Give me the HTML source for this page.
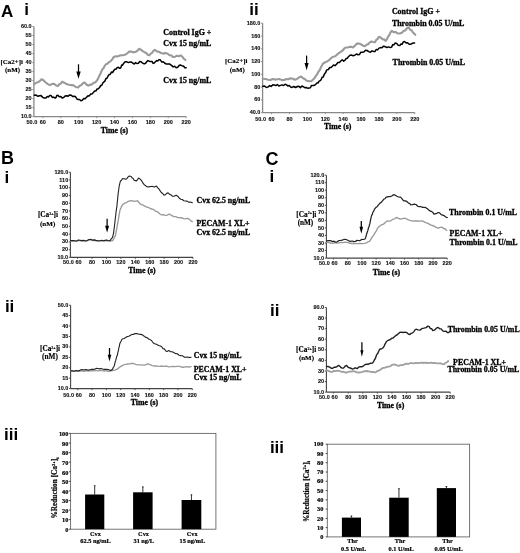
<!DOCTYPE html>
<html><head><meta charset="utf-8"><title>Figure</title>
<style>html,body{margin:0;padding:0;background:#fff;width:520px;height:553px;overflow:hidden}svg{display:block;filter:blur(0.3px)}</style>
</head><body>
<svg width="520" height="553" viewBox="0 0 520 553">
<rect width="520" height="553" fill="#fff"/>
<line x1="33.9" y1="26.5" x2="33.9" y2="116.6" stroke="#888" stroke-width="1.3"/>
<line x1="33.9" y1="116.6" x2="186.2" y2="116.6" stroke="#888" stroke-width="1.3"/>
<line x1="32.3" y1="26.50" x2="33.9" y2="26.50" stroke="#888" stroke-width="0.9"/>
<text x="31.70" y="28.07" font-size="5.5" font-family='"Liberation Sans", sans-serif' font-weight="bold" text-anchor="end" fill="#111" stroke="#111" stroke-width="0.12">60.0</text>
<line x1="32.3" y1="35.51" x2="33.9" y2="35.51" stroke="#888" stroke-width="0.9"/>
<text x="31.70" y="37.08" font-size="5.5" font-family='"Liberation Sans", sans-serif' font-weight="bold" text-anchor="end" fill="#111" stroke="#111" stroke-width="0.12">55</text>
<line x1="32.3" y1="44.52" x2="33.9" y2="44.52" stroke="#888" stroke-width="0.9"/>
<text x="31.70" y="46.09" font-size="5.5" font-family='"Liberation Sans", sans-serif' font-weight="bold" text-anchor="end" fill="#111" stroke="#111" stroke-width="0.12">50</text>
<line x1="32.3" y1="53.53" x2="33.9" y2="53.53" stroke="#888" stroke-width="0.9"/>
<text x="31.70" y="55.10" font-size="5.5" font-family='"Liberation Sans", sans-serif' font-weight="bold" text-anchor="end" fill="#111" stroke="#111" stroke-width="0.12">45</text>
<line x1="32.3" y1="62.54" x2="33.9" y2="62.54" stroke="#888" stroke-width="0.9"/>
<text x="31.70" y="64.11" font-size="5.5" font-family='"Liberation Sans", sans-serif' font-weight="bold" text-anchor="end" fill="#111" stroke="#111" stroke-width="0.12">40</text>
<line x1="32.3" y1="71.55" x2="33.9" y2="71.55" stroke="#888" stroke-width="0.9"/>
<text x="31.70" y="73.12" font-size="5.5" font-family='"Liberation Sans", sans-serif' font-weight="bold" text-anchor="end" fill="#111" stroke="#111" stroke-width="0.12">35</text>
<line x1="32.3" y1="80.56" x2="33.9" y2="80.56" stroke="#888" stroke-width="0.9"/>
<text x="31.70" y="82.13" font-size="5.5" font-family='"Liberation Sans", sans-serif' font-weight="bold" text-anchor="end" fill="#111" stroke="#111" stroke-width="0.12">30</text>
<line x1="32.3" y1="89.57" x2="33.9" y2="89.57" stroke="#888" stroke-width="0.9"/>
<text x="31.70" y="91.14" font-size="5.5" font-family='"Liberation Sans", sans-serif' font-weight="bold" text-anchor="end" fill="#111" stroke="#111" stroke-width="0.12">25</text>
<line x1="32.3" y1="98.58" x2="33.9" y2="98.58" stroke="#888" stroke-width="0.9"/>
<text x="31.70" y="100.15" font-size="5.5" font-family='"Liberation Sans", sans-serif' font-weight="bold" text-anchor="end" fill="#111" stroke="#111" stroke-width="0.12">20</text>
<line x1="32.3" y1="107.59" x2="33.9" y2="107.59" stroke="#888" stroke-width="0.9"/>
<text x="31.70" y="109.16" font-size="5.5" font-family='"Liberation Sans", sans-serif' font-weight="bold" text-anchor="end" fill="#111" stroke="#111" stroke-width="0.12">15</text>
<line x1="32.3" y1="116.60" x2="33.9" y2="116.60" stroke="#888" stroke-width="0.9"/>
<text x="31.70" y="118.17" font-size="5.5" font-family='"Liberation Sans", sans-serif' font-weight="bold" text-anchor="end" fill="#111" stroke="#111" stroke-width="0.12">10.0</text>
<text x="31.90" y="124.47" font-size="5.5" font-family='"Liberation Sans", sans-serif' font-weight="bold" text-anchor="middle" fill="#111" stroke="#111" stroke-width="0.12">50.0</text>
<line x1="42.86" y1="116.6" x2="42.86" y2="118.1" stroke="#888" stroke-width="0.9"/>
<text x="42.86" y="124.47" font-size="5.5" font-family='"Liberation Sans", sans-serif' font-weight="bold" text-anchor="middle" fill="#111" stroke="#111" stroke-width="0.12">60</text>
<line x1="60.78" y1="116.6" x2="60.78" y2="118.1" stroke="#888" stroke-width="0.9"/>
<text x="60.78" y="124.47" font-size="5.5" font-family='"Liberation Sans", sans-serif' font-weight="bold" text-anchor="middle" fill="#111" stroke="#111" stroke-width="0.12">80</text>
<line x1="78.69" y1="116.6" x2="78.69" y2="118.1" stroke="#888" stroke-width="0.9"/>
<text x="78.69" y="124.47" font-size="5.5" font-family='"Liberation Sans", sans-serif' font-weight="bold" text-anchor="middle" fill="#111" stroke="#111" stroke-width="0.12">100</text>
<line x1="96.61" y1="116.6" x2="96.61" y2="118.1" stroke="#888" stroke-width="0.9"/>
<text x="96.61" y="124.47" font-size="5.5" font-family='"Liberation Sans", sans-serif' font-weight="bold" text-anchor="middle" fill="#111" stroke="#111" stroke-width="0.12">120</text>
<line x1="114.53" y1="116.6" x2="114.53" y2="118.1" stroke="#888" stroke-width="0.9"/>
<text x="114.53" y="124.47" font-size="5.5" font-family='"Liberation Sans", sans-serif' font-weight="bold" text-anchor="middle" fill="#111" stroke="#111" stroke-width="0.12">140</text>
<line x1="132.45" y1="116.6" x2="132.45" y2="118.1" stroke="#888" stroke-width="0.9"/>
<text x="132.45" y="124.47" font-size="5.5" font-family='"Liberation Sans", sans-serif' font-weight="bold" text-anchor="middle" fill="#111" stroke="#111" stroke-width="0.12">160</text>
<line x1="150.36" y1="116.6" x2="150.36" y2="118.1" stroke="#888" stroke-width="0.9"/>
<text x="150.36" y="124.47" font-size="5.5" font-family='"Liberation Sans", sans-serif' font-weight="bold" text-anchor="middle" fill="#111" stroke="#111" stroke-width="0.12">180</text>
<line x1="168.28" y1="116.6" x2="168.28" y2="118.1" stroke="#888" stroke-width="0.9"/>
<text x="168.28" y="124.47" font-size="5.5" font-family='"Liberation Sans", sans-serif' font-weight="bold" text-anchor="middle" fill="#111" stroke="#111" stroke-width="0.12">200</text>
<line x1="186.20" y1="116.6" x2="186.20" y2="118.1" stroke="#888" stroke-width="0.9"/>
<text x="186.20" y="124.47" font-size="5.5" font-family='"Liberation Sans", sans-serif' font-weight="bold" text-anchor="middle" fill="#111" stroke="#111" stroke-width="0.12">220</text>
<polyline points="34.3,84.1 36.0,82.9 37.7,82.2 39.6,81.2 41.5,79.3 43.5,80.3 45.4,82.2 47.5,83.9 49.7,85.1 51.7,84.1 53.6,83.7 55.8,85.2 57.9,86.1 59.3,84.2 60.8,83.6 62.2,81.7 64.3,82.7 66.5,84.1 68.9,84.8 71.3,85.1 73.6,85.4 75.8,87.0 78.1,87.5 79.7,85.8 81.3,85.1 82.9,83.3 84.5,82.4 86.4,84.5 88.3,85.7 90.1,84.6 91.8,84.6 93.6,82.7 95.4,82.4 96.8,80.7 98.1,78.6 99.2,76.1 100.2,74.3 101.3,71.6 102.4,69.3 103.5,68.4 104.6,66.0 105.7,64.5 107.3,63.8 108.9,62.2 110.5,61.3 112.2,59.4 113.8,56.9 115.6,56.2 117.4,56.5 119.2,55.8 121.1,55.3 123.0,55.3 124.9,54.8 126.8,53.7 129.2,51.5 131.1,51.6 133.0,52.3 135.8,51.9 137.5,50.7 139.2,48.8 140.9,49.6 142.7,51.2 144.4,52.2 146.0,52.8 147.7,54.7 149.3,55.4 150.7,53.6 152.1,52.9 153.4,50.8 154.8,49.9 156.8,51.4 158.8,51.7 160.8,53.0 163.1,53.6 165.4,53.1 167.7,53.8 169.5,55.3 171.2,55.4 173.0,57.0 174.9,56.9 176.9,55.7 178.9,56.2 180.8,55.4 182.3,56.7 183.9,58.8 185.4,60.0" fill="none" stroke="#9a9a9a" stroke-width="2.1" stroke-linejoin="round" stroke-linecap="round"/>
<polyline points="34.3,95.2 36.1,95.0 37.8,96.3 39.6,95.7 41.0,95.6 42.5,97.1 44.2,98.1 45.9,98.1 47.2,96.6 48.4,96.9 49.7,95.4 51.0,95.4 52.4,97.5 53.7,97.1 55.0,98.1 56.0,97.5 56.9,95.4 57.9,95.2 59.3,96.7 60.8,96.4 62.2,98.1 63.6,97.6 65.1,95.9 66.5,95.7 68.1,96.3 69.7,94.9 71.3,95.2 72.8,96.6 74.2,96.3 75.5,96.5 76.8,98.8 78.1,99.5 79.5,99.5 80.9,100.7 82.3,100.3 83.8,98.4 85.2,98.7 86.7,97.1 88.0,95.8 89.3,95.9 90.6,94.1 91.9,94.0 93.2,92.7 94.5,91.1 95.8,91.1 97.1,89.0 98.4,88.8 99.7,87.3 100.8,85.5 101.8,85.2 102.9,82.8 104.0,81.9 105.0,80.9 105.9,78.4 106.8,78.5 107.8,76.5 109.0,74.6 110.2,74.5 111.4,72.0 112.6,72.5 113.8,70.5 114.9,69.2 115.9,69.2 117.0,67.8 118.4,67.3 119.8,68.3 120.8,67.8 121.7,65.0 122.6,65.2 123.6,63.4 125.2,61.8 126.8,61.8 128.4,62.6 130.0,62.0 131.4,62.1 132.9,63.2 134.2,64.0 135.6,62.6 136.9,63.5 138.4,63.3 139.8,61.4 141.2,61.7 142.7,63.2 144.1,63.9 145.6,63.2 146.8,61.6 147.9,60.6 149.7,61.4 151.4,61.4 152.2,61.6 153.1,63.4 154.2,63.1 155.4,61.7 156.6,60.6 157.7,61.0 158.9,59.7 160.3,59.8 161.8,62.1 163.2,61.7 164.6,63.0 166.3,64.1 168.0,64.0 169.8,64.1 171.5,65.4 173.1,66.9 174.6,66.3 176.2,67.7 177.7,67.3 179.3,65.3 180.8,65.0 182.2,66.0 183.5,66.0 184.8,67.7 186.2,67.7" fill="none" stroke="#000" stroke-width="1.5" stroke-linejoin="round" stroke-linecap="round"/>
<line x1="78.5" y1="64.3" x2="78.5" y2="72.6" stroke="#000" stroke-width="1.25"/>
<polygon points="76.3,71.6 80.7,71.6 78.5,78.8" fill="#000"/>
<text x="100.80" y="132.90" font-size="7.8" font-family='"Liberation Serif", serif' font-weight="bold" text-anchor="start" fill="#000" stroke="#000" stroke-width="0.3">Time (s)</text>
<text transform="translate(0.5,64.1) scale(1.0,1)" font-size="6.95" font-family='"Liberation Serif", serif' font-weight="bold" stroke="#000" stroke-width="0.15">[Ca2+]i</text>
<text transform="translate(5,72.0) scale(1.0,1)" font-size="6.95" font-family='"Liberation Serif", serif' font-weight="bold" stroke="#000" stroke-width="0.15">(nM)</text>
<text x="163.30" y="34.80" font-size="7.95" font-family='"Liberation Serif", serif' font-weight="bold" text-anchor="start" fill="#000" stroke="#000" stroke-width="0.3">Control IgG +</text>
<text x="163.30" y="46.20" font-size="7.95" font-family='"Liberation Serif", serif' font-weight="bold" text-anchor="start" fill="#000" stroke="#000" stroke-width="0.3">Cvx 15 ng/mL</text>
<text x="163.30" y="83.30" font-size="7.95" font-family='"Liberation Serif", serif' font-weight="bold" text-anchor="start" fill="#000" stroke="#000" stroke-width="0.3">Cvx 15 ng/mL</text>
<line x1="262.6" y1="23.3" x2="262.6" y2="112.6" stroke="#888" stroke-width="1.3"/>
<line x1="262.6" y1="112.6" x2="414.8" y2="112.6" stroke="#888" stroke-width="1.3"/>
<line x1="261.0" y1="23.30" x2="262.6" y2="23.30" stroke="#888" stroke-width="0.9"/>
<text x="260.40" y="24.87" font-size="5.5" font-family='"Liberation Sans", sans-serif' font-weight="bold" text-anchor="end" fill="#111" stroke="#111" stroke-width="0.12">180.0</text>
<line x1="261.0" y1="36.06" x2="262.6" y2="36.06" stroke="#888" stroke-width="0.9"/>
<text x="260.40" y="37.63" font-size="5.5" font-family='"Liberation Sans", sans-serif' font-weight="bold" text-anchor="end" fill="#111" stroke="#111" stroke-width="0.12">160</text>
<line x1="261.0" y1="48.81" x2="262.6" y2="48.81" stroke="#888" stroke-width="0.9"/>
<text x="260.40" y="50.38" font-size="5.5" font-family='"Liberation Sans", sans-serif' font-weight="bold" text-anchor="end" fill="#111" stroke="#111" stroke-width="0.12">140</text>
<line x1="261.0" y1="61.57" x2="262.6" y2="61.57" stroke="#888" stroke-width="0.9"/>
<text x="260.40" y="63.14" font-size="5.5" font-family='"Liberation Sans", sans-serif' font-weight="bold" text-anchor="end" fill="#111" stroke="#111" stroke-width="0.12">120</text>
<line x1="261.0" y1="74.33" x2="262.6" y2="74.33" stroke="#888" stroke-width="0.9"/>
<text x="260.40" y="75.90" font-size="5.5" font-family='"Liberation Sans", sans-serif' font-weight="bold" text-anchor="end" fill="#111" stroke="#111" stroke-width="0.12">100</text>
<line x1="261.0" y1="87.09" x2="262.6" y2="87.09" stroke="#888" stroke-width="0.9"/>
<text x="260.40" y="88.65" font-size="5.5" font-family='"Liberation Sans", sans-serif' font-weight="bold" text-anchor="end" fill="#111" stroke="#111" stroke-width="0.12">80</text>
<line x1="261.0" y1="99.84" x2="262.6" y2="99.84" stroke="#888" stroke-width="0.9"/>
<text x="260.40" y="101.41" font-size="5.5" font-family='"Liberation Sans", sans-serif' font-weight="bold" text-anchor="end" fill="#111" stroke="#111" stroke-width="0.12">60</text>
<line x1="261.0" y1="112.60" x2="262.6" y2="112.60" stroke="#888" stroke-width="0.9"/>
<text x="260.40" y="114.17" font-size="5.5" font-family='"Liberation Sans", sans-serif' font-weight="bold" text-anchor="end" fill="#111" stroke="#111" stroke-width="0.12">40.0</text>
<text x="260.60" y="120.57" font-size="5.5" font-family='"Liberation Sans", sans-serif' font-weight="bold" text-anchor="middle" fill="#111" stroke="#111" stroke-width="0.12">50.0</text>
<line x1="271.55" y1="112.6" x2="271.55" y2="114.1" stroke="#888" stroke-width="0.9"/>
<text x="271.55" y="120.57" font-size="5.5" font-family='"Liberation Sans", sans-serif' font-weight="bold" text-anchor="middle" fill="#111" stroke="#111" stroke-width="0.12">60</text>
<line x1="289.46" y1="112.6" x2="289.46" y2="114.1" stroke="#888" stroke-width="0.9"/>
<text x="289.46" y="120.57" font-size="5.5" font-family='"Liberation Sans", sans-serif' font-weight="bold" text-anchor="middle" fill="#111" stroke="#111" stroke-width="0.12">80</text>
<line x1="307.36" y1="112.6" x2="307.36" y2="114.1" stroke="#888" stroke-width="0.9"/>
<text x="307.36" y="120.57" font-size="5.5" font-family='"Liberation Sans", sans-serif' font-weight="bold" text-anchor="middle" fill="#111" stroke="#111" stroke-width="0.12">100</text>
<line x1="325.27" y1="112.6" x2="325.27" y2="114.1" stroke="#888" stroke-width="0.9"/>
<text x="325.27" y="120.57" font-size="5.5" font-family='"Liberation Sans", sans-serif' font-weight="bold" text-anchor="middle" fill="#111" stroke="#111" stroke-width="0.12">120</text>
<line x1="343.18" y1="112.6" x2="343.18" y2="114.1" stroke="#888" stroke-width="0.9"/>
<text x="343.18" y="120.57" font-size="5.5" font-family='"Liberation Sans", sans-serif' font-weight="bold" text-anchor="middle" fill="#111" stroke="#111" stroke-width="0.12">140</text>
<line x1="361.08" y1="112.6" x2="361.08" y2="114.1" stroke="#888" stroke-width="0.9"/>
<text x="361.08" y="120.57" font-size="5.5" font-family='"Liberation Sans", sans-serif' font-weight="bold" text-anchor="middle" fill="#111" stroke="#111" stroke-width="0.12">160</text>
<line x1="378.99" y1="112.6" x2="378.99" y2="114.1" stroke="#888" stroke-width="0.9"/>
<text x="378.99" y="120.57" font-size="5.5" font-family='"Liberation Sans", sans-serif' font-weight="bold" text-anchor="middle" fill="#111" stroke="#111" stroke-width="0.12">180</text>
<line x1="396.89" y1="112.6" x2="396.89" y2="114.1" stroke="#888" stroke-width="0.9"/>
<text x="396.89" y="120.57" font-size="5.5" font-family='"Liberation Sans", sans-serif' font-weight="bold" text-anchor="middle" fill="#111" stroke="#111" stroke-width="0.12">200</text>
<line x1="414.80" y1="112.6" x2="414.80" y2="114.1" stroke="#888" stroke-width="0.9"/>
<text x="414.80" y="120.57" font-size="5.5" font-family='"Liberation Sans", sans-serif' font-weight="bold" text-anchor="middle" fill="#111" stroke="#111" stroke-width="0.12">220</text>
<polyline points="262.8,78.8 265.5,79.0 268.2,79.7 270.5,80.0 272.8,79.0 275.1,79.6 277.4,79.2 279.7,79.1 282.0,80.1 284.3,80.0 286.4,79.0 288.4,79.3 290.5,78.2 292.8,78.7 295.1,79.7 297.1,78.9 299.2,77.2 301.2,76.6 303.0,78.3 304.8,79.0 306.6,80.8 309.7,81.2 311.5,81.1 313.1,79.6 314.8,77.8 315.9,75.7 317.0,74.7 318.0,72.3 319.1,70.8 320.1,69.5 321.0,66.8 321.9,65.7 322.9,63.7 324.8,62.5 326.7,61.6 328.9,60.3 331.0,58.3 332.8,56.7 334.7,56.5 336.5,55.1 338.6,53.2 340.8,51.8 342.4,50.7 344.1,48.7 345.7,47.5 347.6,47.5 349.5,46.9 351.2,46.8 353.0,47.4 354.9,45.8 356.7,43.6 358.8,43.6 360.8,44.2 362.8,45.5 364.8,46.2 366.5,44.8 368.1,44.2 369.8,42.4 371.5,41.5 373.2,42.0 374.9,42.2 376.2,39.9 377.6,39.0 378.9,36.8 380.6,37.4 382.3,39.1 384.0,39.4 385.7,40.9 386.9,39.4 388.1,36.6 389.3,35.1 390.5,32.4 391.7,30.8 393.7,32.1 395.8,32.1 397.8,33.5 399.8,33.5 401.8,32.8 403.5,31.0 405.1,30.5 406.8,28.5 408.5,27.4 410.1,29.6 411.7,30.5 413.3,32.8 415.3,34.8" fill="none" stroke="#9a9a9a" stroke-width="2.1" stroke-linejoin="round" stroke-linecap="round"/>
<polyline points="262.8,86.2 264.6,86.1 266.4,87.5 268.2,86.9 269.7,85.6 271.2,86.4 272.8,84.8 274.3,84.9 275.9,85.6 277.4,84.5 278.9,86.0 280.5,85.4 282.0,84.9 283.6,85.5 285.1,84.2 286.6,84.9 288.0,86.1 289.3,85.4 290.6,87.1 292.0,87.4 293.8,86.5 295.6,87.5 297.4,86.5 298.9,86.2 300.4,87.6 302.0,86.0 303.5,86.9 304.8,87.7 306.1,87.5 307.4,88.2 309.3,88.1 310.4,87.8 311.5,85.4 312.6,85.4 314.2,85.4 315.8,84.3 316.9,82.9 318.0,83.0 319.1,81.2 320.2,80.6 321.1,79.7 322.1,77.3 323.1,77.1 324.0,75.1 324.8,73.3 325.6,72.8 326.4,70.6 327.2,69.7 328.4,69.5 329.6,67.6 330.9,67.6 332.1,66.5 333.6,65.0 335.0,65.7 336.5,64.3 337.9,62.5 339.4,62.5 340.8,61.0 342.2,59.8 343.7,61.1 345.1,60.0 346.2,58.5 347.3,58.3 348.4,56.7 350.0,55.2 351.6,55.1 353.2,55.8 354.9,55.1 356.5,54.0 358.1,54.7 359.4,54.5 360.8,52.3 362.1,52.3 363.8,52.0 365.5,50.3 367.1,50.5 368.8,51.6 370.4,52.3 372.0,50.8 373.6,51.6 374.9,51.6 376.3,49.4 377.6,49.9 379.0,48.1 380.3,47.6 381.9,47.7 383.4,46.2 385.0,46.6 386.8,47.5 388.6,46.9 390.4,47.6 391.6,47.1 392.8,44.6 393.9,44.9 395.1,43.1 396.7,43.4 398.2,45.3 399.8,45.6 401.0,44.0 402.1,44.3 403.3,41.9 404.5,41.5 406.1,42.9 407.6,42.7 409.2,44.2 411.0,44.2 412.8,43.1 414.6,43.1" fill="none" stroke="#000" stroke-width="1.5" stroke-linejoin="round" stroke-linecap="round"/>
<line x1="306.6" y1="55.6" x2="306.6" y2="64.1" stroke="#000" stroke-width="1.25"/>
<polygon points="304.55,63.099999999999994 308.65000000000003,63.099999999999994 306.6,70.3" fill="#000"/>
<text x="324.00" y="129.30" font-size="7.8" font-family='"Liberation Serif", serif' font-weight="bold" text-anchor="start" fill="#000" stroke="#000" stroke-width="0.3">Time (s)</text>
<text transform="translate(225.0,63.3) scale(1.0,1)" font-size="6.95" font-family='"Liberation Serif", serif' font-weight="bold" stroke="#000" stroke-width="0.15">[Ca2+]i</text>
<text transform="translate(229.8,71.6) scale(1.0,1)" font-size="6.95" font-family='"Liberation Serif", serif' font-weight="bold" stroke="#000" stroke-width="0.15">(nM)</text>
<text x="391.90" y="13.80" font-size="7.95" font-family='"Liberation Serif", serif' font-weight="bold" text-anchor="start" fill="#000" stroke="#000" stroke-width="0.3">Control IgG +</text>
<text x="391.90" y="25.60" font-size="7.95" font-family='"Liberation Serif", serif' font-weight="bold" text-anchor="start" fill="#000" stroke="#000" stroke-width="0.3">Thrombin 0.05 U/mL</text>
<text x="392.60" y="65.40" font-size="7.95" font-family='"Liberation Serif", serif' font-weight="bold" text-anchor="start" fill="#000" stroke="#000" stroke-width="0.3">Thrombin 0.05 U/mL</text>
<line x1="70.4" y1="172.2" x2="70.4" y2="257.4" stroke="#444" stroke-width="1.1"/>
<line x1="70.4" y1="257.4" x2="193.0" y2="257.4" stroke="#444" stroke-width="1.1"/>
<line x1="68.80000000000001" y1="172.20" x2="70.4" y2="172.20" stroke="#444" stroke-width="0.9"/>
<text x="68.20" y="173.77" font-size="5.5" font-family='"Liberation Sans", sans-serif' font-weight="bold" text-anchor="end" fill="#111" stroke="#111" stroke-width="0.12">120.0</text>
<line x1="68.80000000000001" y1="179.95" x2="70.4" y2="179.95" stroke="#444" stroke-width="0.9"/>
<text x="68.20" y="181.51" font-size="5.5" font-family='"Liberation Sans", sans-serif' font-weight="bold" text-anchor="end" fill="#111" stroke="#111" stroke-width="0.12">110</text>
<line x1="68.80000000000001" y1="187.69" x2="70.4" y2="187.69" stroke="#444" stroke-width="0.9"/>
<text x="68.20" y="189.26" font-size="5.5" font-family='"Liberation Sans", sans-serif' font-weight="bold" text-anchor="end" fill="#111" stroke="#111" stroke-width="0.12">100</text>
<line x1="68.80000000000001" y1="195.44" x2="70.4" y2="195.44" stroke="#444" stroke-width="0.9"/>
<text x="68.20" y="197.01" font-size="5.5" font-family='"Liberation Sans", sans-serif' font-weight="bold" text-anchor="end" fill="#111" stroke="#111" stroke-width="0.12">90</text>
<line x1="68.80000000000001" y1="203.18" x2="70.4" y2="203.18" stroke="#444" stroke-width="0.9"/>
<text x="68.20" y="204.75" font-size="5.5" font-family='"Liberation Sans", sans-serif' font-weight="bold" text-anchor="end" fill="#111" stroke="#111" stroke-width="0.12">80</text>
<line x1="68.80000000000001" y1="210.93" x2="70.4" y2="210.93" stroke="#444" stroke-width="0.9"/>
<text x="68.20" y="212.50" font-size="5.5" font-family='"Liberation Sans", sans-serif' font-weight="bold" text-anchor="end" fill="#111" stroke="#111" stroke-width="0.12">70</text>
<line x1="68.80000000000001" y1="218.67" x2="70.4" y2="218.67" stroke="#444" stroke-width="0.9"/>
<text x="68.20" y="220.24" font-size="5.5" font-family='"Liberation Sans", sans-serif' font-weight="bold" text-anchor="end" fill="#111" stroke="#111" stroke-width="0.12">60</text>
<line x1="68.80000000000001" y1="226.42" x2="70.4" y2="226.42" stroke="#444" stroke-width="0.9"/>
<text x="68.20" y="227.99" font-size="5.5" font-family='"Liberation Sans", sans-serif' font-weight="bold" text-anchor="end" fill="#111" stroke="#111" stroke-width="0.12">50</text>
<line x1="68.80000000000001" y1="234.16" x2="70.4" y2="234.16" stroke="#444" stroke-width="0.9"/>
<text x="68.20" y="235.73" font-size="5.5" font-family='"Liberation Sans", sans-serif' font-weight="bold" text-anchor="end" fill="#111" stroke="#111" stroke-width="0.12">40</text>
<line x1="68.80000000000001" y1="241.91" x2="70.4" y2="241.91" stroke="#444" stroke-width="0.9"/>
<text x="68.20" y="243.48" font-size="5.5" font-family='"Liberation Sans", sans-serif' font-weight="bold" text-anchor="end" fill="#111" stroke="#111" stroke-width="0.12">30</text>
<line x1="68.80000000000001" y1="249.65" x2="70.4" y2="249.65" stroke="#444" stroke-width="0.9"/>
<text x="68.20" y="251.22" font-size="5.5" font-family='"Liberation Sans", sans-serif' font-weight="bold" text-anchor="end" fill="#111" stroke="#111" stroke-width="0.12">20</text>
<line x1="68.80000000000001" y1="257.40" x2="70.4" y2="257.40" stroke="#444" stroke-width="0.9"/>
<text x="68.20" y="258.97" font-size="5.5" font-family='"Liberation Sans", sans-serif' font-weight="bold" text-anchor="end" fill="#111" stroke="#111" stroke-width="0.12">10.0</text>
<text x="68.40" y="264.47" font-size="5.5" font-family='"Liberation Sans", sans-serif' font-weight="bold" text-anchor="middle" fill="#111" stroke="#111" stroke-width="0.12">50.0</text>
<line x1="77.61" y1="257.4" x2="77.61" y2="258.9" stroke="#444" stroke-width="0.9"/>
<text x="78.61" y="264.47" font-size="5.5" font-family='"Liberation Sans", sans-serif' font-weight="bold" text-anchor="middle" fill="#111" stroke="#111" stroke-width="0.12">60</text>
<line x1="92.04" y1="257.4" x2="92.04" y2="258.9" stroke="#444" stroke-width="0.9"/>
<text x="92.04" y="264.47" font-size="5.5" font-family='"Liberation Sans", sans-serif' font-weight="bold" text-anchor="middle" fill="#111" stroke="#111" stroke-width="0.12">80</text>
<line x1="106.46" y1="257.4" x2="106.46" y2="258.9" stroke="#444" stroke-width="0.9"/>
<text x="106.46" y="264.47" font-size="5.5" font-family='"Liberation Sans", sans-serif' font-weight="bold" text-anchor="middle" fill="#111" stroke="#111" stroke-width="0.12">100</text>
<line x1="120.88" y1="257.4" x2="120.88" y2="258.9" stroke="#444" stroke-width="0.9"/>
<text x="120.88" y="264.47" font-size="5.5" font-family='"Liberation Sans", sans-serif' font-weight="bold" text-anchor="middle" fill="#111" stroke="#111" stroke-width="0.12">120</text>
<line x1="135.31" y1="257.4" x2="135.31" y2="258.9" stroke="#444" stroke-width="0.9"/>
<text x="135.31" y="264.47" font-size="5.5" font-family='"Liberation Sans", sans-serif' font-weight="bold" text-anchor="middle" fill="#111" stroke="#111" stroke-width="0.12">140</text>
<line x1="149.73" y1="257.4" x2="149.73" y2="258.9" stroke="#444" stroke-width="0.9"/>
<text x="149.73" y="264.47" font-size="5.5" font-family='"Liberation Sans", sans-serif' font-weight="bold" text-anchor="middle" fill="#111" stroke="#111" stroke-width="0.12">160</text>
<line x1="164.15" y1="257.4" x2="164.15" y2="258.9" stroke="#444" stroke-width="0.9"/>
<text x="164.15" y="264.47" font-size="5.5" font-family='"Liberation Sans", sans-serif' font-weight="bold" text-anchor="middle" fill="#111" stroke="#111" stroke-width="0.12">180</text>
<line x1="178.58" y1="257.4" x2="178.58" y2="258.9" stroke="#444" stroke-width="0.9"/>
<text x="178.58" y="264.47" font-size="5.5" font-family='"Liberation Sans", sans-serif' font-weight="bold" text-anchor="middle" fill="#111" stroke="#111" stroke-width="0.12">200</text>
<line x1="193.00" y1="257.4" x2="193.00" y2="258.9" stroke="#444" stroke-width="0.9"/>
<text x="193.00" y="264.47" font-size="5.5" font-family='"Liberation Sans", sans-serif' font-weight="bold" text-anchor="middle" fill="#111" stroke="#111" stroke-width="0.12">220</text>
<polyline points="70.6,241.0 72.8,240.9 75.0,241.2 76.7,241.3 78.3,240.5 80.0,240.6 81.7,241.0 83.3,240.8 85.0,241.2 87.0,241.0 89.0,240.1 91.0,240.0 92.7,240.6 94.3,240.4 96.0,240.8 98.0,241.1 100.0,241.2 101.7,240.7 103.3,241.2 105.0,240.8 106.8,240.5 108.7,240.9 110.6,240.6 112.4,240.8 113.4,239.5 114.3,237.4 115.3,236.0 115.7,234.2 116.2,231.3 116.6,229.6 117.0,227.3 117.4,225.1 117.7,223.4 118.1,220.8 118.4,219.3 118.8,217.0 119.1,215.1 119.4,213.7 119.7,211.6 120.0,210.0 120.8,208.4 121.5,206.5 123.0,204.4 124.6,203.2 126.3,202.7 127.9,201.5 129.8,200.9 131.7,200.6 134.6,201.3 137.5,200.8 139.2,202.8 140.9,204.4 143.1,205.2 145.2,206.3 146.9,207.2 148.6,207.5 150.2,208.5 151.9,209.0 153.4,209.4 155.0,210.8 156.5,211.3 158.1,212.2 159.6,213.8 161.2,214.8 163.2,214.7 165.2,215.4 167.2,215.1 169.2,214.2 170.7,214.8 172.3,215.9 173.8,216.5 175.7,216.6 177.7,217.6 179.6,217.7 181.5,217.7 183.5,218.7 185.4,218.8 187.7,218.3 189.2,219.1 190.8,220.9 192.3,221.7" fill="none" stroke="#9a9a9a" stroke-width="1.35" stroke-linejoin="round" stroke-linecap="round"/>
<polyline points="70.6,240.6 72.8,240.5 75.0,240.8 76.7,241.0 78.3,240.0 80.0,240.2 81.7,240.6 83.3,240.3 85.0,240.8 87.0,240.6 89.0,239.5 91.0,239.4 92.7,240.1 94.3,239.9 96.0,240.4 98.0,240.8 100.0,240.8 101.7,240.3 103.3,240.8 105.0,240.4 106.7,240.1 108.4,240.7 110.1,240.6 111.2,238.9 112.4,237.7 112.8,236.5 113.2,234.3 113.6,233.0 113.8,231.6 114.0,228.9 114.3,227.6 114.5,225.5 114.7,223.8 114.9,222.4 115.1,219.9 115.3,218.9 115.5,216.7 115.7,215.5 115.9,213.5 116.1,211.6 116.3,210.3 116.6,208.1 116.8,207.0 117.0,205.0 117.2,203.1 117.3,201.9 117.5,199.8 117.7,198.6 117.8,196.4 118.0,195.0 118.2,193.4 118.5,191.0 118.7,189.9 119.0,187.5 119.2,186.0 119.6,184.5 120.1,182.2 120.5,181.0 121.5,180.2 122.6,178.5 124.3,178.7 126.0,179.2 127.1,178.4 128.2,176.7 129.3,176.0 131.2,176.5 132.2,178.1 133.2,178.5 134.1,180.2 136.5,180.9 137.5,179.7 138.5,178.0 140.2,179.1 141.8,180.9 143.0,183.2 144.2,184.7 145.4,185.4 146.6,186.6 148.7,186.9 150.8,186.5 152.5,186.4 154.2,187.1 156.5,186.0 157.7,187.9 158.8,188.8 160.0,190.6 161.3,192.5 162.7,193.5 164.0,195.2 165.4,194.7 166.7,193.3 168.1,192.9 169.6,194.3 171.2,195.0 172.7,196.3 174.4,196.1 176.2,195.2 177.7,196.2 179.3,198.2 180.8,199.2 182.3,199.5 183.9,200.7 185.4,201.0 187.1,201.1 188.9,202.2 190.6,202.0 192.3,202.7" fill="none" stroke="#222" stroke-width="1.1" stroke-linejoin="round" stroke-linecap="round"/>
<line x1="107.1" y1="218.8" x2="107.1" y2="226.79999999999998" stroke="#000" stroke-width="1.25"/>
<polygon points="105.05,225.79999999999998 109.14999999999999,225.79999999999998 107.1,232.6" fill="#000"/>
<text x="128.30" y="273.40" font-size="7.8" font-family='"Liberation Serif", serif' font-weight="bold" text-anchor="start" fill="#000" stroke="#000" stroke-width="0.3">Time (s)</text>
<text transform="translate(37.9,217.3) scale(1.0,1)" font-size="7.3" font-family='"Liberation Serif", serif' font-weight="bold" stroke="#000" stroke-width="0.15">[Ca<tspan font-size="4.0" dy="-2.7">2+</tspan><tspan dy="2.7">]i</tspan></text>
<text transform="translate(40,226.3) scale(1.0,1)" font-size="7.1" font-family='"Liberation Serif", serif' font-weight="bold" stroke="#000" stroke-width="0.15">(nM)</text>
<text x="196.50" y="203.20" font-size="7.9" font-family='"Liberation Serif", serif' font-weight="bold" text-anchor="start" fill="#000" stroke="#000" stroke-width="0.3">Cvx 62.5 ng/mL</text>
<text x="196.50" y="226.30" font-size="7.9" font-family='"Liberation Serif", serif' font-weight="bold" text-anchor="start" fill="#000" stroke="#000" stroke-width="0.3">PECAM-1 XL+</text>
<text x="196.50" y="235.10" font-size="7.9" font-family='"Liberation Serif", serif' font-weight="bold" text-anchor="start" fill="#000" stroke="#000" stroke-width="0.3">Cvx 62.5 ng/mL</text>
<line x1="70.6" y1="305.2" x2="70.6" y2="388.6" stroke="#444" stroke-width="1.1"/>
<line x1="70.6" y1="388.6" x2="192.3" y2="388.6" stroke="#444" stroke-width="1.1"/>
<line x1="69.0" y1="305.20" x2="70.6" y2="305.20" stroke="#444" stroke-width="0.9"/>
<text x="68.40" y="306.77" font-size="5.5" font-family='"Liberation Sans", sans-serif' font-weight="bold" text-anchor="end" fill="#111" stroke="#111" stroke-width="0.12">50.0</text>
<line x1="69.0" y1="315.62" x2="70.6" y2="315.62" stroke="#444" stroke-width="0.9"/>
<text x="68.40" y="317.19" font-size="5.5" font-family='"Liberation Sans", sans-serif' font-weight="bold" text-anchor="end" fill="#111" stroke="#111" stroke-width="0.12">45</text>
<line x1="69.0" y1="326.05" x2="70.6" y2="326.05" stroke="#444" stroke-width="0.9"/>
<text x="68.40" y="327.62" font-size="5.5" font-family='"Liberation Sans", sans-serif' font-weight="bold" text-anchor="end" fill="#111" stroke="#111" stroke-width="0.12">40</text>
<line x1="69.0" y1="336.48" x2="70.6" y2="336.48" stroke="#444" stroke-width="0.9"/>
<text x="68.40" y="338.04" font-size="5.5" font-family='"Liberation Sans", sans-serif' font-weight="bold" text-anchor="end" fill="#111" stroke="#111" stroke-width="0.12">35</text>
<line x1="69.0" y1="346.90" x2="70.6" y2="346.90" stroke="#444" stroke-width="0.9"/>
<text x="68.40" y="348.47" font-size="5.5" font-family='"Liberation Sans", sans-serif' font-weight="bold" text-anchor="end" fill="#111" stroke="#111" stroke-width="0.12">30</text>
<line x1="69.0" y1="357.32" x2="70.6" y2="357.32" stroke="#444" stroke-width="0.9"/>
<text x="68.40" y="358.89" font-size="5.5" font-family='"Liberation Sans", sans-serif' font-weight="bold" text-anchor="end" fill="#111" stroke="#111" stroke-width="0.12">25</text>
<line x1="69.0" y1="367.75" x2="70.6" y2="367.75" stroke="#444" stroke-width="0.9"/>
<text x="68.40" y="369.32" font-size="5.5" font-family='"Liberation Sans", sans-serif' font-weight="bold" text-anchor="end" fill="#111" stroke="#111" stroke-width="0.12">20</text>
<line x1="69.0" y1="378.18" x2="70.6" y2="378.18" stroke="#444" stroke-width="0.9"/>
<text x="68.40" y="379.74" font-size="5.5" font-family='"Liberation Sans", sans-serif' font-weight="bold" text-anchor="end" fill="#111" stroke="#111" stroke-width="0.12">15</text>
<line x1="69.0" y1="388.60" x2="70.6" y2="388.60" stroke="#444" stroke-width="0.9"/>
<text x="68.40" y="390.17" font-size="5.5" font-family='"Liberation Sans", sans-serif' font-weight="bold" text-anchor="end" fill="#111" stroke="#111" stroke-width="0.12">10.0</text>
<text x="68.60" y="396.77" font-size="5.5" font-family='"Liberation Sans", sans-serif' font-weight="bold" text-anchor="middle" fill="#111" stroke="#111" stroke-width="0.12">50.0</text>
<line x1="77.76" y1="388.6" x2="77.76" y2="390.1" stroke="#444" stroke-width="0.9"/>
<text x="78.76" y="396.77" font-size="5.5" font-family='"Liberation Sans", sans-serif' font-weight="bold" text-anchor="middle" fill="#111" stroke="#111" stroke-width="0.12">60</text>
<line x1="92.08" y1="388.6" x2="92.08" y2="390.1" stroke="#444" stroke-width="0.9"/>
<text x="92.08" y="396.77" font-size="5.5" font-family='"Liberation Sans", sans-serif' font-weight="bold" text-anchor="middle" fill="#111" stroke="#111" stroke-width="0.12">80</text>
<line x1="106.39" y1="388.6" x2="106.39" y2="390.1" stroke="#444" stroke-width="0.9"/>
<text x="106.39" y="396.77" font-size="5.5" font-family='"Liberation Sans", sans-serif' font-weight="bold" text-anchor="middle" fill="#111" stroke="#111" stroke-width="0.12">100</text>
<line x1="120.71" y1="388.6" x2="120.71" y2="390.1" stroke="#444" stroke-width="0.9"/>
<text x="120.71" y="396.77" font-size="5.5" font-family='"Liberation Sans", sans-serif' font-weight="bold" text-anchor="middle" fill="#111" stroke="#111" stroke-width="0.12">120</text>
<line x1="135.03" y1="388.6" x2="135.03" y2="390.1" stroke="#444" stroke-width="0.9"/>
<text x="135.03" y="396.77" font-size="5.5" font-family='"Liberation Sans", sans-serif' font-weight="bold" text-anchor="middle" fill="#111" stroke="#111" stroke-width="0.12">140</text>
<line x1="149.35" y1="388.6" x2="149.35" y2="390.1" stroke="#444" stroke-width="0.9"/>
<text x="149.35" y="396.77" font-size="5.5" font-family='"Liberation Sans", sans-serif' font-weight="bold" text-anchor="middle" fill="#111" stroke="#111" stroke-width="0.12">160</text>
<line x1="163.66" y1="388.6" x2="163.66" y2="390.1" stroke="#444" stroke-width="0.9"/>
<text x="163.66" y="396.77" font-size="5.5" font-family='"Liberation Sans", sans-serif' font-weight="bold" text-anchor="middle" fill="#111" stroke="#111" stroke-width="0.12">180</text>
<line x1="177.98" y1="388.6" x2="177.98" y2="390.1" stroke="#444" stroke-width="0.9"/>
<text x="177.98" y="396.77" font-size="5.5" font-family='"Liberation Sans", sans-serif' font-weight="bold" text-anchor="middle" fill="#111" stroke="#111" stroke-width="0.12">200</text>
<line x1="192.30" y1="388.6" x2="192.30" y2="390.1" stroke="#444" stroke-width="0.9"/>
<text x="192.30" y="396.77" font-size="5.5" font-family='"Liberation Sans", sans-serif' font-weight="bold" text-anchor="middle" fill="#111" stroke="#111" stroke-width="0.12">220</text>
<polyline points="70.8,371.0 72.6,370.9 74.5,371.4 76.3,370.8 78.2,371.3 80.0,371.2 82.0,370.9 84.0,371.3 86.0,370.7 88.0,371.2 90.0,370.8 92.0,370.6 94.0,370.9 96.0,370.3 98.0,370.9 100.0,370.6 102.0,370.4 104.0,371.0 106.0,370.7 108.0,371.4 110.0,371.2 112.4,370.5 114.8,370.2 116.8,369.4 118.8,367.9 120.4,366.5 121.9,366.0 123.5,364.8 125.8,364.3 128.0,364.0 129.8,363.9 131.5,363.3 133.6,363.5 135.6,364.4 137.6,364.8 139.6,364.8 141.9,364.8 144.2,365.2 145.9,364.7 147.7,363.8 150.0,364.6 152.3,365.6 154.2,366.0 156.1,365.8 158.0,366.2 159.8,366.4 161.5,366.0 163.2,366.4 165.0,366.2 166.8,366.2 168.6,366.8 170.4,366.7 172.7,366.4 175.0,366.6 177.3,366.3 179.6,366.3 181.9,367.2 184.2,367.2 186.5,366.7 188.8,367.0 191.1,366.7" fill="none" stroke="#9a9a9a" stroke-width="1.35" stroke-linejoin="round" stroke-linecap="round"/>
<polyline points="70.8,370.9 72.5,370.7 74.2,371.3 75.9,370.5 77.6,370.9 79.2,370.7 80.8,369.7 82.4,369.6 84.0,370.0 85.6,369.5 87.2,369.9 89.1,370.1 91.1,369.4 93.0,369.4 94.6,369.3 96.2,368.4 97.8,368.5 99.4,368.9 101.0,368.5 102.6,369.0 104.5,369.4 106.5,369.4 108.4,369.6 110.3,370.4 111.5,370.1 112.7,369.0 113.3,367.3 114.0,366.5 114.6,364.6 115.1,362.2 115.6,360.9 116.1,358.8 116.6,356.9 117.2,355.6 117.7,353.5 118.1,351.3 118.5,350.3 118.8,348.0 119.2,346.8 119.6,344.6 120.0,343.0 120.8,341.9 121.5,340.1 122.3,339.0 124.0,338.5 125.8,337.5 127.3,336.5 128.9,336.2 130.4,335.2 131.9,334.5 133.5,334.4 135.0,333.6 136.9,333.6 138.9,334.3 140.8,334.4 142.5,334.9 144.2,336.2 145.6,337.4 147.1,337.6 148.6,339.0 150.0,339.6 151.5,340.5 153.1,342.7 154.6,343.7 156.5,344.3 158.5,345.5 160.4,346.0 161.7,346.8 163.0,348.6 164.3,348.9 165.6,350.8 166.9,351.6 168.5,350.5 170.4,351.6 172.1,351.7 173.8,352.5 175.6,353.6 177.3,353.8 179.1,355.2 180.8,355.6 182.5,355.8 184.3,357.1 186.0,357.3 187.7,357.0 189.4,357.6 191.1,357.2" fill="none" stroke="#222" stroke-width="1.1" stroke-linejoin="round" stroke-linecap="round"/>
<line x1="109.5" y1="348" x2="109.5" y2="355.8" stroke="#000" stroke-width="1.25"/>
<polygon points="107.7,354.8 111.3,354.8 109.5,361.6" fill="#000"/>
<text x="130.80" y="404.90" font-size="7.8" font-family='"Liberation Serif", serif' font-weight="bold" text-anchor="start" fill="#000" stroke="#000" stroke-width="0.3">Time (s)</text>
<text transform="translate(40,351.2) scale(1.0,1)" font-size="7.3" font-family='"Liberation Serif", serif' font-weight="bold" stroke="#000" stroke-width="0.15">[Ca<tspan font-size="4.0" dy="-2.7">2+</tspan><tspan dy="2.7">]i</tspan></text>
<text transform="translate(42,359.4) scale(1.0,1)" font-size="7.3" font-family='"Liberation Serif", serif' font-weight="bold" stroke="#000" stroke-width="0.15">(nM)</text>
<text x="193.70" y="357.70" font-size="7.9" font-family='"Liberation Serif", serif' font-weight="bold" text-anchor="start" fill="#000" stroke="#000" stroke-width="0.3">Cvx 15 ng/mL</text>
<text x="193.70" y="371.50" font-size="7.9" font-family='"Liberation Serif", serif' font-weight="bold" text-anchor="start" fill="#000" stroke="#000" stroke-width="0.3">PECAM-1 XL+</text>
<text x="193.70" y="380.20" font-size="7.9" font-family='"Liberation Serif", serif' font-weight="bold" text-anchor="start" fill="#000" stroke="#000" stroke-width="0.3">Cvx 15 ng/mL</text>
<line x1="326.4" y1="175.2" x2="326.4" y2="258.1" stroke="#444" stroke-width="1.1"/>
<line x1="326.4" y1="258.1" x2="447.2" y2="258.1" stroke="#444" stroke-width="1.1"/>
<line x1="324.79999999999995" y1="175.20" x2="326.4" y2="175.20" stroke="#444" stroke-width="0.9"/>
<text x="324.20" y="176.77" font-size="5.5" font-family='"Liberation Sans", sans-serif' font-weight="bold" text-anchor="end" fill="#111" stroke="#111" stroke-width="0.12">120.0</text>
<line x1="324.79999999999995" y1="182.74" x2="326.4" y2="182.74" stroke="#444" stroke-width="0.9"/>
<text x="324.20" y="184.31" font-size="5.5" font-family='"Liberation Sans", sans-serif' font-weight="bold" text-anchor="end" fill="#111" stroke="#111" stroke-width="0.12">110</text>
<line x1="324.79999999999995" y1="190.27" x2="326.4" y2="190.27" stroke="#444" stroke-width="0.9"/>
<text x="324.20" y="191.84" font-size="5.5" font-family='"Liberation Sans", sans-serif' font-weight="bold" text-anchor="end" fill="#111" stroke="#111" stroke-width="0.12">100</text>
<line x1="324.79999999999995" y1="197.81" x2="326.4" y2="197.81" stroke="#444" stroke-width="0.9"/>
<text x="324.20" y="199.38" font-size="5.5" font-family='"Liberation Sans", sans-serif' font-weight="bold" text-anchor="end" fill="#111" stroke="#111" stroke-width="0.12">90</text>
<line x1="324.79999999999995" y1="205.35" x2="326.4" y2="205.35" stroke="#444" stroke-width="0.9"/>
<text x="324.20" y="206.91" font-size="5.5" font-family='"Liberation Sans", sans-serif' font-weight="bold" text-anchor="end" fill="#111" stroke="#111" stroke-width="0.12">80</text>
<line x1="324.79999999999995" y1="212.88" x2="326.4" y2="212.88" stroke="#444" stroke-width="0.9"/>
<text x="324.20" y="214.45" font-size="5.5" font-family='"Liberation Sans", sans-serif' font-weight="bold" text-anchor="end" fill="#111" stroke="#111" stroke-width="0.12">70</text>
<line x1="324.79999999999995" y1="220.42" x2="326.4" y2="220.42" stroke="#444" stroke-width="0.9"/>
<text x="324.20" y="221.99" font-size="5.5" font-family='"Liberation Sans", sans-serif' font-weight="bold" text-anchor="end" fill="#111" stroke="#111" stroke-width="0.12">60</text>
<line x1="324.79999999999995" y1="227.95" x2="326.4" y2="227.95" stroke="#444" stroke-width="0.9"/>
<text x="324.20" y="229.52" font-size="5.5" font-family='"Liberation Sans", sans-serif' font-weight="bold" text-anchor="end" fill="#111" stroke="#111" stroke-width="0.12">50</text>
<line x1="324.79999999999995" y1="235.49" x2="326.4" y2="235.49" stroke="#444" stroke-width="0.9"/>
<text x="324.20" y="237.06" font-size="5.5" font-family='"Liberation Sans", sans-serif' font-weight="bold" text-anchor="end" fill="#111" stroke="#111" stroke-width="0.12">40</text>
<line x1="324.79999999999995" y1="243.03" x2="326.4" y2="243.03" stroke="#444" stroke-width="0.9"/>
<text x="324.20" y="244.60" font-size="5.5" font-family='"Liberation Sans", sans-serif' font-weight="bold" text-anchor="end" fill="#111" stroke="#111" stroke-width="0.12">30</text>
<line x1="324.79999999999995" y1="250.56" x2="326.4" y2="250.56" stroke="#444" stroke-width="0.9"/>
<text x="324.20" y="252.13" font-size="5.5" font-family='"Liberation Sans", sans-serif' font-weight="bold" text-anchor="end" fill="#111" stroke="#111" stroke-width="0.12">20</text>
<line x1="324.79999999999995" y1="258.10" x2="326.4" y2="258.10" stroke="#444" stroke-width="0.9"/>
<text x="324.20" y="259.67" font-size="5.5" font-family='"Liberation Sans", sans-serif' font-weight="bold" text-anchor="end" fill="#111" stroke="#111" stroke-width="0.12">10.0</text>
<text x="324.40" y="265.07" font-size="5.5" font-family='"Liberation Sans", sans-serif' font-weight="bold" text-anchor="middle" fill="#111" stroke="#111" stroke-width="0.12">50.0</text>
<line x1="333.51" y1="258.1" x2="333.51" y2="259.6" stroke="#444" stroke-width="0.9"/>
<text x="334.51" y="265.07" font-size="5.5" font-family='"Liberation Sans", sans-serif' font-weight="bold" text-anchor="middle" fill="#111" stroke="#111" stroke-width="0.12">60</text>
<line x1="347.72" y1="258.1" x2="347.72" y2="259.6" stroke="#444" stroke-width="0.9"/>
<text x="347.72" y="265.07" font-size="5.5" font-family='"Liberation Sans", sans-serif' font-weight="bold" text-anchor="middle" fill="#111" stroke="#111" stroke-width="0.12">80</text>
<line x1="361.93" y1="258.1" x2="361.93" y2="259.6" stroke="#444" stroke-width="0.9"/>
<text x="361.93" y="265.07" font-size="5.5" font-family='"Liberation Sans", sans-serif' font-weight="bold" text-anchor="middle" fill="#111" stroke="#111" stroke-width="0.12">100</text>
<line x1="376.14" y1="258.1" x2="376.14" y2="259.6" stroke="#444" stroke-width="0.9"/>
<text x="376.14" y="265.07" font-size="5.5" font-family='"Liberation Sans", sans-serif' font-weight="bold" text-anchor="middle" fill="#111" stroke="#111" stroke-width="0.12">120</text>
<line x1="390.35" y1="258.1" x2="390.35" y2="259.6" stroke="#444" stroke-width="0.9"/>
<text x="390.35" y="265.07" font-size="5.5" font-family='"Liberation Sans", sans-serif' font-weight="bold" text-anchor="middle" fill="#111" stroke="#111" stroke-width="0.12">140</text>
<line x1="404.56" y1="258.1" x2="404.56" y2="259.6" stroke="#444" stroke-width="0.9"/>
<text x="404.56" y="265.07" font-size="5.5" font-family='"Liberation Sans", sans-serif' font-weight="bold" text-anchor="middle" fill="#111" stroke="#111" stroke-width="0.12">160</text>
<line x1="418.78" y1="258.1" x2="418.78" y2="259.6" stroke="#444" stroke-width="0.9"/>
<text x="418.78" y="265.07" font-size="5.5" font-family='"Liberation Sans", sans-serif' font-weight="bold" text-anchor="middle" fill="#111" stroke="#111" stroke-width="0.12">180</text>
<line x1="432.99" y1="258.1" x2="432.99" y2="259.6" stroke="#444" stroke-width="0.9"/>
<text x="432.99" y="265.07" font-size="5.5" font-family='"Liberation Sans", sans-serif' font-weight="bold" text-anchor="middle" fill="#111" stroke="#111" stroke-width="0.12">200</text>
<line x1="447.20" y1="258.1" x2="447.20" y2="259.6" stroke="#444" stroke-width="0.9"/>
<text x="447.20" y="265.07" font-size="5.5" font-family='"Liberation Sans", sans-serif' font-weight="bold" text-anchor="middle" fill="#111" stroke="#111" stroke-width="0.12">220</text>
<polyline points="326.6,242.4 328.8,242.5 330.9,243.0 332.9,243.3 334.9,242.6 337.0,243.0 339.0,242.8 340.9,242.3 342.9,242.6 344.8,242.1 347.1,242.3 349.4,243.0 351.7,243.5 354.0,243.3 356.3,243.6 358.2,243.7 360.2,243.3 362.1,243.6 364.4,243.4 366.7,242.8 368.1,241.7 369.6,241.3 370.6,239.9 371.5,238.0 372.5,236.7 373.6,235.3 374.8,233.1 375.9,231.5 376.8,230.1 377.6,228.0 379.6,226.2 381.4,224.9 383.1,224.4 384.4,223.4 385.8,222.0 387.1,221.0 389.1,221.1 391.2,220.6 392.9,219.2 394.6,218.8 396.3,217.5 398.1,218.1 399.8,219.0 402.1,218.8 404.4,218.1 406.4,218.8 408.5,219.8 410.8,220.6 413.1,221.0 415.4,220.8 417.7,221.0 419.8,221.2 421.9,220.9 423.4,221.4 425.0,222.4 426.5,222.9 428.4,223.6 430.4,224.9 432.3,225.5 434.2,226.2 436.2,227.4 438.1,228.1 440.1,227.3 442.1,227.2 443.6,228.5 445.2,229.0 446.7,230.4" fill="none" stroke="#9a9a9a" stroke-width="1.35" stroke-linejoin="round" stroke-linecap="round"/>
<polyline points="326.6,240.9 328.8,240.6 330.9,240.7 332.4,241.6 334.0,241.2 335.5,242.1 337.1,241.8 338.6,240.7 340.2,240.5 342.2,240.2 344.2,239.3 346.2,239.5 348.2,240.5 350.1,241.3 352.1,241.0 354.0,241.6 355.5,241.4 357.1,240.4 358.6,240.5 360.1,240.5 361.7,239.4 363.2,239.5 365.0,239.0 365.6,237.7 366.1,236.1 366.7,233.7 367.3,232.0 367.9,230.4 368.4,228.0 369.2,226.2 369.6,224.2 370.0,223.2 370.4,220.5 370.7,219.5 371.1,217.3 371.5,215.8 372.2,214.6 372.9,212.1 373.7,211.3 374.4,209.4 375.8,207.6 377.1,206.7 378.5,204.8 379.8,203.3 381.2,202.4 382.5,200.8 383.7,199.3 384.8,198.8 386.0,197.3 388.0,196.7 390.0,196.7 391.8,196.0 393.5,194.7 395.2,195.2 396.9,196.2 398.6,197.0 400.4,197.1 401.5,198.1 402.7,199.7 403.8,200.8 405.6,200.9 407.3,201.9 408.5,203.2 409.6,203.4 410.8,204.8 412.5,204.7 414.2,204.2 416.0,204.5 417.8,206.3 419.6,206.7 421.1,206.7 422.7,207.4 424.2,207.3 425.9,207.7 427.7,209.0 429.4,210.6 431.2,211.3 432.6,212.2 434.0,214.2 436.1,213.7 438.1,212.5 439.6,212.9 441.2,214.7 442.7,215.2 444.2,215.7 445.8,217.1 447.3,217.5" fill="none" stroke="#222" stroke-width="1.25" stroke-linejoin="round" stroke-linecap="round"/>
<line x1="361.3" y1="221" x2="361.3" y2="227.8" stroke="#000" stroke-width="1.25"/>
<polygon points="359.5,226.8 363.1,226.8 361.3,233.8" fill="#000"/>
<text x="372.70" y="274.60" font-size="7.8" font-family='"Liberation Serif", serif' font-weight="bold" text-anchor="start" fill="#000" stroke="#000" stroke-width="0.3">Time (s)</text>
<text transform="translate(296.3,216.5) scale(1.0,1)" font-size="7.3" font-family='"Liberation Serif", serif' font-weight="bold" stroke="#000" stroke-width="0.15">[Ca<tspan font-size="4.0" dy="-2.7">2+</tspan><tspan dy="2.7">]i</tspan></text>
<text transform="translate(297.7,224.8) scale(1.0,1)" font-size="7.2" font-family='"Liberation Serif", serif' font-weight="bold" stroke="#000" stroke-width="0.15">(nM)</text>
<text x="449.00" y="214.60" font-size="7.9" font-family='"Liberation Serif", serif' font-weight="bold" text-anchor="start" fill="#000" stroke="#000" stroke-width="0.3">Thrombin 0.1 U/mL</text>
<text x="449.60" y="235.60" font-size="7.9" font-family='"Liberation Serif", serif' font-weight="bold" text-anchor="start" fill="#000" stroke="#000" stroke-width="0.3">PECAM-1 XL+</text>
<text x="449.60" y="244.50" font-size="7.9" font-family='"Liberation Serif", serif' font-weight="bold" text-anchor="start" fill="#000" stroke="#000" stroke-width="0.3">Thrombin 0.1 U/mL</text>
<line x1="326.4" y1="307.5" x2="326.4" y2="392.1" stroke="#444" stroke-width="1.1"/>
<line x1="326.4" y1="392.1" x2="450.2" y2="392.1" stroke="#444" stroke-width="1.1"/>
<line x1="324.79999999999995" y1="307.50" x2="326.4" y2="307.50" stroke="#444" stroke-width="0.9"/>
<text x="324.20" y="309.07" font-size="5.5" font-family='"Liberation Sans", sans-serif' font-weight="bold" text-anchor="end" fill="#111" stroke="#111" stroke-width="0.12">90.0</text>
<line x1="324.79999999999995" y1="318.07" x2="326.4" y2="318.07" stroke="#444" stroke-width="0.9"/>
<text x="324.20" y="319.64" font-size="5.5" font-family='"Liberation Sans", sans-serif' font-weight="bold" text-anchor="end" fill="#111" stroke="#111" stroke-width="0.12">80</text>
<line x1="324.79999999999995" y1="328.65" x2="326.4" y2="328.65" stroke="#444" stroke-width="0.9"/>
<text x="324.20" y="330.22" font-size="5.5" font-family='"Liberation Sans", sans-serif' font-weight="bold" text-anchor="end" fill="#111" stroke="#111" stroke-width="0.12">70</text>
<line x1="324.79999999999995" y1="339.23" x2="326.4" y2="339.23" stroke="#444" stroke-width="0.9"/>
<text x="324.20" y="340.79" font-size="5.5" font-family='"Liberation Sans", sans-serif' font-weight="bold" text-anchor="end" fill="#111" stroke="#111" stroke-width="0.12">60</text>
<line x1="324.79999999999995" y1="349.80" x2="326.4" y2="349.80" stroke="#444" stroke-width="0.9"/>
<text x="324.20" y="351.37" font-size="5.5" font-family='"Liberation Sans", sans-serif' font-weight="bold" text-anchor="end" fill="#111" stroke="#111" stroke-width="0.12">50</text>
<line x1="324.79999999999995" y1="360.38" x2="326.4" y2="360.38" stroke="#444" stroke-width="0.9"/>
<text x="324.20" y="361.94" font-size="5.5" font-family='"Liberation Sans", sans-serif' font-weight="bold" text-anchor="end" fill="#111" stroke="#111" stroke-width="0.12">40</text>
<line x1="324.79999999999995" y1="370.95" x2="326.4" y2="370.95" stroke="#444" stroke-width="0.9"/>
<text x="324.20" y="372.52" font-size="5.5" font-family='"Liberation Sans", sans-serif' font-weight="bold" text-anchor="end" fill="#111" stroke="#111" stroke-width="0.12">30</text>
<line x1="324.79999999999995" y1="381.53" x2="326.4" y2="381.53" stroke="#444" stroke-width="0.9"/>
<text x="324.20" y="383.09" font-size="5.5" font-family='"Liberation Sans", sans-serif' font-weight="bold" text-anchor="end" fill="#111" stroke="#111" stroke-width="0.12">20</text>
<line x1="324.79999999999995" y1="392.10" x2="326.4" y2="392.10" stroke="#444" stroke-width="0.9"/>
<text x="324.20" y="393.67" font-size="5.5" font-family='"Liberation Sans", sans-serif' font-weight="bold" text-anchor="end" fill="#111" stroke="#111" stroke-width="0.12">10.0</text>
<text x="324.40" y="399.07" font-size="5.5" font-family='"Liberation Sans", sans-serif' font-weight="bold" text-anchor="middle" fill="#111" stroke="#111" stroke-width="0.12">50.0</text>
<line x1="333.68" y1="392.1" x2="333.68" y2="393.6" stroke="#444" stroke-width="0.9"/>
<text x="334.68" y="399.07" font-size="5.5" font-family='"Liberation Sans", sans-serif' font-weight="bold" text-anchor="middle" fill="#111" stroke="#111" stroke-width="0.12">60</text>
<line x1="348.25" y1="392.1" x2="348.25" y2="393.6" stroke="#444" stroke-width="0.9"/>
<text x="348.25" y="399.07" font-size="5.5" font-family='"Liberation Sans", sans-serif' font-weight="bold" text-anchor="middle" fill="#111" stroke="#111" stroke-width="0.12">80</text>
<line x1="362.81" y1="392.1" x2="362.81" y2="393.6" stroke="#444" stroke-width="0.9"/>
<text x="362.81" y="399.07" font-size="5.5" font-family='"Liberation Sans", sans-serif' font-weight="bold" text-anchor="middle" fill="#111" stroke="#111" stroke-width="0.12">100</text>
<line x1="377.38" y1="392.1" x2="377.38" y2="393.6" stroke="#444" stroke-width="0.9"/>
<text x="377.38" y="399.07" font-size="5.5" font-family='"Liberation Sans", sans-serif' font-weight="bold" text-anchor="middle" fill="#111" stroke="#111" stroke-width="0.12">120</text>
<line x1="391.94" y1="392.1" x2="391.94" y2="393.6" stroke="#444" stroke-width="0.9"/>
<text x="391.94" y="399.07" font-size="5.5" font-family='"Liberation Sans", sans-serif' font-weight="bold" text-anchor="middle" fill="#111" stroke="#111" stroke-width="0.12">140</text>
<line x1="406.51" y1="392.1" x2="406.51" y2="393.6" stroke="#444" stroke-width="0.9"/>
<text x="406.51" y="399.07" font-size="5.5" font-family='"Liberation Sans", sans-serif' font-weight="bold" text-anchor="middle" fill="#111" stroke="#111" stroke-width="0.12">160</text>
<line x1="421.07" y1="392.1" x2="421.07" y2="393.6" stroke="#444" stroke-width="0.9"/>
<text x="421.07" y="399.07" font-size="5.5" font-family='"Liberation Sans", sans-serif' font-weight="bold" text-anchor="middle" fill="#111" stroke="#111" stroke-width="0.12">180</text>
<line x1="435.64" y1="392.1" x2="435.64" y2="393.6" stroke="#444" stroke-width="0.9"/>
<text x="435.64" y="399.07" font-size="5.5" font-family='"Liberation Sans", sans-serif' font-weight="bold" text-anchor="middle" fill="#111" stroke="#111" stroke-width="0.12">200</text>
<line x1="450.20" y1="392.1" x2="450.20" y2="393.6" stroke="#444" stroke-width="0.9"/>
<text x="450.20" y="399.07" font-size="5.5" font-family='"Liberation Sans", sans-serif' font-weight="bold" text-anchor="middle" fill="#111" stroke="#111" stroke-width="0.12">220</text>
<polyline points="326.6,370.2 328.6,370.9 330.5,371.9 332.2,371.9 333.9,370.9 335.7,371.1 337.4,370.6 339.3,370.8 341.2,371.8 343.2,371.7 345.1,372.5 347.0,372.5 349.0,371.7 350.9,371.7 352.8,371.2 354.7,371.4 356.6,372.3 359.2,372.5 361.6,372.1 364.0,371.3 366.4,371.0 368.8,371.3 370.8,371.8 372.7,372.0 375.6,372.3 377.1,371.2 378.5,370.6 380.4,369.7 382.3,368.2 385.2,367.7 386.6,367.0 388.1,366.7 390.2,366.3 392.3,364.8 394.4,364.4 396.4,365.2 398.5,365.8 400.5,365.2 402.5,365.1 404.5,364.4 406.4,363.7 408.2,364.0 410.0,363.2 411.9,363.1 413.9,363.3 415.9,362.8 418.0,363.1 420.0,362.8 421.9,362.6 423.8,363.0 425.6,362.6 427.5,363.0 429.4,362.8 431.3,362.7 433.2,363.2 435.0,362.9 436.9,363.3 438.8,363.3 440.6,363.2 442.4,364.1 444.2,364.1 445.6,362.8 446.9,362.2 448.3,361.0" fill="none" stroke="#a0a0a0" stroke-width="1.8" stroke-linejoin="round" stroke-linecap="round"/>
<polyline points="326.6,366.5 328.1,366.5 329.7,367.1 331.2,368.3 332.8,368.3 334.1,367.2 335.5,367.3 336.9,366.7 338.2,365.4 339.5,365.9 340.8,367.3 342.1,368.1 343.5,368.1 345.1,366.2 346.6,365.4 348.0,367.2 349.3,367.8 350.9,368.2 352.4,369.1 353.8,368.7 355.1,367.8 357.4,368.5 358.9,367.0 360.5,366.8 362.1,366.7 363.6,365.8 365.2,364.5 366.9,364.3 368.5,364.2 370.1,363.3 371.7,363.4 372.7,362.9 373.7,361.4 374.5,359.5 375.2,358.9 376.0,356.6 376.8,354.4 377.7,353.6 378.5,351.8 379.2,350.2 379.9,349.0 381.3,349.0 382.8,348.0 384.2,346.1 384.9,344.0 385.5,343.6 386.2,341.7 388.1,340.3 390.4,339.5 391.7,338.3 393.1,338.1 394.4,336.8 395.8,335.5 397.1,334.9 398.5,333.5 399.9,332.4 401.2,332.1 403.2,332.5 405.2,332.1 406.8,332.6 408.3,334.0 409.9,334.5 411.2,333.3 412.6,332.8 413.7,332.0 414.9,330.0 416.0,329.2 418.0,329.9 420.0,330.1 422.0,328.5 424.0,328.1 426.0,327.6 428.0,326.1 429.2,326.7 430.4,328.6 431.6,328.7 432.8,330.5 434.6,330.1 436.4,328.2 438.2,327.4 439.7,328.8 441.2,328.9 442.7,330.9 444.2,331.4 445.8,331.1 447.3,332.5 448.9,332.5" fill="none" stroke="#222" stroke-width="1.4" stroke-linejoin="round" stroke-linecap="round"/>
<line x1="361.9" y1="342.2" x2="361.9" y2="351.3" stroke="#000" stroke-width="1.25"/>
<polygon points="360.29999999999995,350.3 363.5,350.3 361.9,356.7" fill="#000"/>
<text x="376.90" y="407.80" font-size="7.8" font-family='"Liberation Serif", serif' font-weight="bold" text-anchor="start" fill="#000" stroke="#000" stroke-width="0.3">Time (s)</text>
<text transform="translate(296.1,352.3) scale(1.0,1)" font-size="7.3" font-family='"Liberation Serif", serif' font-weight="bold" stroke="#000" stroke-width="0.15">[Ca<tspan font-size="4.0" dy="-2.7">2+</tspan><tspan dy="2.7">]i</tspan></text>
<text transform="translate(298.9,359.8) scale(1.0,1)" font-size="7.0" font-family='"Liberation Serif", serif' font-weight="bold" stroke="#000" stroke-width="0.15">(nM)</text>
<text x="447.70" y="331.60" font-size="7.9" font-family='"Liberation Serif", serif' font-weight="bold" text-anchor="start" fill="#000" stroke="#000" stroke-width="0.3">Thrombin 0.05 U/mL</text>
<text x="453.10" y="364.50" font-size="7.9" font-family='"Liberation Serif", serif' font-weight="bold" text-anchor="start" fill="#000" stroke="#000" stroke-width="0.3">PECAM-1 XL+</text>
<text x="447.40" y="372.20" font-size="7.9" font-family='"Liberation Serif", serif' font-weight="bold" text-anchor="start" fill="#000" stroke="#000" stroke-width="0.3">Thrombin 0.05 U/mL</text>
<rect x="70.6" y="433.4" width="145.3" height="95.80000000000007" fill="none" stroke="#666" stroke-width="0.9"/>
<line x1="69.0" y1="529.20" x2="70.6" y2="529.20" stroke="#333" stroke-width="0.9"/>
<text x="68.40" y="532.00" font-size="6.3" font-family='"Liberation Serif", serif' font-weight="bold" text-anchor="end" fill="#000" stroke="#000" stroke-width="0.2">0</text>
<line x1="69.0" y1="519.62" x2="70.6" y2="519.62" stroke="#333" stroke-width="0.9"/>
<text x="68.40" y="522.42" font-size="6.3" font-family='"Liberation Serif", serif' font-weight="bold" text-anchor="end" fill="#000" stroke="#000" stroke-width="0.2">10</text>
<line x1="69.0" y1="510.04" x2="70.6" y2="510.04" stroke="#333" stroke-width="0.9"/>
<text x="68.40" y="512.84" font-size="6.3" font-family='"Liberation Serif", serif' font-weight="bold" text-anchor="end" fill="#000" stroke="#000" stroke-width="0.2">20</text>
<line x1="69.0" y1="500.46" x2="70.6" y2="500.46" stroke="#333" stroke-width="0.9"/>
<text x="68.40" y="503.26" font-size="6.3" font-family='"Liberation Serif", serif' font-weight="bold" text-anchor="end" fill="#000" stroke="#000" stroke-width="0.2">30</text>
<line x1="69.0" y1="490.88" x2="70.6" y2="490.88" stroke="#333" stroke-width="0.9"/>
<text x="68.40" y="493.68" font-size="6.3" font-family='"Liberation Serif", serif' font-weight="bold" text-anchor="end" fill="#000" stroke="#000" stroke-width="0.2">40</text>
<line x1="69.0" y1="481.30" x2="70.6" y2="481.30" stroke="#333" stroke-width="0.9"/>
<text x="68.40" y="484.10" font-size="6.3" font-family='"Liberation Serif", serif' font-weight="bold" text-anchor="end" fill="#000" stroke="#000" stroke-width="0.2">50</text>
<line x1="69.0" y1="471.72" x2="70.6" y2="471.72" stroke="#333" stroke-width="0.9"/>
<text x="68.40" y="474.52" font-size="6.3" font-family='"Liberation Serif", serif' font-weight="bold" text-anchor="end" fill="#000" stroke="#000" stroke-width="0.2">60</text>
<line x1="69.0" y1="462.14" x2="70.6" y2="462.14" stroke="#333" stroke-width="0.9"/>
<text x="68.40" y="464.94" font-size="6.3" font-family='"Liberation Serif", serif' font-weight="bold" text-anchor="end" fill="#000" stroke="#000" stroke-width="0.2">70</text>
<line x1="69.0" y1="452.56" x2="70.6" y2="452.56" stroke="#333" stroke-width="0.9"/>
<text x="68.40" y="455.36" font-size="6.3" font-family='"Liberation Serif", serif' font-weight="bold" text-anchor="end" fill="#000" stroke="#000" stroke-width="0.2">80</text>
<line x1="69.0" y1="442.98" x2="70.6" y2="442.98" stroke="#333" stroke-width="0.9"/>
<text x="68.40" y="445.78" font-size="6.3" font-family='"Liberation Serif", serif' font-weight="bold" text-anchor="end" fill="#000" stroke="#000" stroke-width="0.2">90</text>
<line x1="69.0" y1="433.40" x2="70.6" y2="433.40" stroke="#333" stroke-width="0.9"/>
<text x="68.40" y="436.20" font-size="6.3" font-family='"Liberation Serif", serif' font-weight="bold" text-anchor="end" fill="#000" stroke="#000" stroke-width="0.2">100</text>
<line x1="94.69999999999999" y1="485.8" x2="94.69999999999999" y2="494.5" stroke="#000" stroke-width="0.8"/>
<line x1="93.89999999999999" y1="485.8" x2="95.49999999999999" y2="485.8" stroke="#000" stroke-width="0.8"/>
<rect x="85.1" y="494.5" width="19.200000000000003" height="34.700000000000045" fill="#000"/>
<text x="95.40" y="536.10" font-size="6.3" font-family='"Liberation Serif", serif' font-weight="bold" text-anchor="middle" fill="#000" stroke="#000" stroke-width="0.2">Cvx</text>
<text x="95.60" y="543.40" font-size="6.3" font-family='"Liberation Serif", serif' font-weight="bold" text-anchor="middle" fill="#000" stroke="#000" stroke-width="0.2">62.5 ng/mL</text>
<line x1="142.85" y1="486.9" x2="142.85" y2="492.3" stroke="#000" stroke-width="0.8"/>
<line x1="142.04999999999998" y1="486.9" x2="143.65" y2="486.9" stroke="#000" stroke-width="0.8"/>
<rect x="133.1" y="492.3" width="19.5" height="36.900000000000034" fill="#000"/>
<text x="143.55" y="536.10" font-size="6.3" font-family='"Liberation Serif", serif' font-weight="bold" text-anchor="middle" fill="#000" stroke="#000" stroke-width="0.2">Cvx</text>
<text x="143.75" y="543.40" font-size="6.3" font-family='"Liberation Serif", serif' font-weight="bold" text-anchor="middle" fill="#000" stroke="#000" stroke-width="0.2">31 ng/L</text>
<line x1="191.45" y1="494.8" x2="191.45" y2="500" stroke="#000" stroke-width="0.8"/>
<line x1="190.64999999999998" y1="494.8" x2="192.25" y2="494.8" stroke="#000" stroke-width="0.8"/>
<rect x="181.6" y="500" width="19.700000000000017" height="29.200000000000045" fill="#000"/>
<text x="192.15" y="536.10" font-size="6.3" font-family='"Liberation Serif", serif' font-weight="bold" text-anchor="middle" fill="#000" stroke="#000" stroke-width="0.2">Cvx</text>
<text x="192.35" y="543.40" font-size="6.3" font-family='"Liberation Serif", serif' font-weight="bold" text-anchor="middle" fill="#000" stroke="#000" stroke-width="0.2">15 ng/mL</text>
<text transform="translate(57.3,518.5) rotate(-90)" stroke="#000" stroke-width="0.2" font-size="7.3" font-family='"Liberation Serif", serif' font-weight="bold">%Reduction [Ca<tspan font-size="4.4" dy="-2.6">2+</tspan><tspan dy="2.6">]</tspan><tspan font-size="4.4" dy="1.5">i</tspan></text>
<rect x="327.3" y="444.2" width="142.3" height="92.69999999999999" fill="none" stroke="#666" stroke-width="0.9"/>
<line x1="325.7" y1="536.90" x2="327.3" y2="536.90" stroke="#333" stroke-width="0.9"/>
<text x="323.30" y="539.10" font-size="6.3" font-family='"Liberation Serif", serif' font-weight="bold" text-anchor="end" fill="#000" stroke="#000" stroke-width="0.2">0</text>
<line x1="325.7" y1="527.63" x2="327.3" y2="527.63" stroke="#333" stroke-width="0.9"/>
<text x="323.30" y="529.83" font-size="6.3" font-family='"Liberation Serif", serif' font-weight="bold" text-anchor="end" fill="#000" stroke="#000" stroke-width="0.2">10</text>
<line x1="325.7" y1="518.36" x2="327.3" y2="518.36" stroke="#333" stroke-width="0.9"/>
<text x="323.30" y="520.56" font-size="6.3" font-family='"Liberation Serif", serif' font-weight="bold" text-anchor="end" fill="#000" stroke="#000" stroke-width="0.2">20</text>
<line x1="325.7" y1="509.09" x2="327.3" y2="509.09" stroke="#333" stroke-width="0.9"/>
<text x="323.30" y="511.29" font-size="6.3" font-family='"Liberation Serif", serif' font-weight="bold" text-anchor="end" fill="#000" stroke="#000" stroke-width="0.2">30</text>
<line x1="325.7" y1="499.82" x2="327.3" y2="499.82" stroke="#333" stroke-width="0.9"/>
<text x="323.30" y="502.02" font-size="6.3" font-family='"Liberation Serif", serif' font-weight="bold" text-anchor="end" fill="#000" stroke="#000" stroke-width="0.2">40</text>
<line x1="325.7" y1="490.55" x2="327.3" y2="490.55" stroke="#333" stroke-width="0.9"/>
<text x="323.30" y="492.75" font-size="6.3" font-family='"Liberation Serif", serif' font-weight="bold" text-anchor="end" fill="#000" stroke="#000" stroke-width="0.2">50</text>
<line x1="325.7" y1="481.28" x2="327.3" y2="481.28" stroke="#333" stroke-width="0.9"/>
<text x="323.30" y="483.48" font-size="6.3" font-family='"Liberation Serif", serif' font-weight="bold" text-anchor="end" fill="#000" stroke="#000" stroke-width="0.2">60</text>
<line x1="325.7" y1="472.01" x2="327.3" y2="472.01" stroke="#333" stroke-width="0.9"/>
<text x="323.30" y="474.21" font-size="6.3" font-family='"Liberation Serif", serif' font-weight="bold" text-anchor="end" fill="#000" stroke="#000" stroke-width="0.2">70</text>
<line x1="325.7" y1="462.74" x2="327.3" y2="462.74" stroke="#333" stroke-width="0.9"/>
<text x="323.30" y="464.94" font-size="6.3" font-family='"Liberation Serif", serif' font-weight="bold" text-anchor="end" fill="#000" stroke="#000" stroke-width="0.2">80</text>
<line x1="325.7" y1="453.47" x2="327.3" y2="453.47" stroke="#333" stroke-width="0.9"/>
<text x="323.30" y="455.67" font-size="6.3" font-family='"Liberation Serif", serif' font-weight="bold" text-anchor="end" fill="#000" stroke="#000" stroke-width="0.2">90</text>
<line x1="325.7" y1="444.20" x2="327.3" y2="444.20" stroke="#333" stroke-width="0.9"/>
<text x="323.30" y="446.40" font-size="6.3" font-family='"Liberation Serif", serif' font-weight="bold" text-anchor="end" fill="#000" stroke="#000" stroke-width="0.2">100</text>
<line x1="351.45" y1="516" x2="351.45" y2="517.6" stroke="#000" stroke-width="0.8"/>
<line x1="350.65" y1="516" x2="352.25" y2="516" stroke="#000" stroke-width="0.8"/>
<rect x="341.9" y="517.6" width="19.100000000000023" height="19.299999999999955" fill="#000"/>
<text x="352.55" y="542.60" font-size="6.3" font-family='"Liberation Serif", serif' font-weight="bold" text-anchor="middle" fill="#000" stroke="#000" stroke-width="0.2">Thr</text>
<text x="353.65" y="550.50" font-size="6.3" font-family='"Liberation Serif", serif' font-weight="bold" text-anchor="middle" fill="#000" stroke="#000" stroke-width="0.2">0.5 U/mL</text>
<line x1="398.95" y1="488.7" x2="398.95" y2="497.7" stroke="#000" stroke-width="0.8"/>
<line x1="398.15" y1="488.7" x2="399.75" y2="488.7" stroke="#000" stroke-width="0.8"/>
<rect x="389.2" y="497.7" width="19.5" height="39.19999999999999" fill="#000"/>
<text x="400.05" y="542.60" font-size="6.3" font-family='"Liberation Serif", serif' font-weight="bold" text-anchor="middle" fill="#000" stroke="#000" stroke-width="0.2">Thr</text>
<text x="401.15" y="550.50" font-size="6.3" font-family='"Liberation Serif", serif' font-weight="bold" text-anchor="middle" fill="#000" stroke="#000" stroke-width="0.2">0.1 U/mL</text>
<line x1="446.4" y1="486.5" x2="446.4" y2="488.1" stroke="#000" stroke-width="0.8"/>
<line x1="445.59999999999997" y1="486.5" x2="447.2" y2="486.5" stroke="#000" stroke-width="0.8"/>
<rect x="436.8" y="488.1" width="19.19999999999999" height="48.799999999999955" fill="#000"/>
<text x="447.50" y="542.60" font-size="6.3" font-family='"Liberation Serif", serif' font-weight="bold" text-anchor="middle" fill="#000" stroke="#000" stroke-width="0.2">Thr</text>
<text x="448.60" y="550.50" font-size="6.3" font-family='"Liberation Serif", serif' font-weight="bold" text-anchor="middle" fill="#000" stroke="#000" stroke-width="0.2">0.05 U/mL</text>
<text transform="translate(308.5,522) rotate(-90)" stroke="#000" stroke-width="0.2" font-size="7.3" font-family='"Liberation Serif", serif' font-weight="bold">%Reduction [Ca<tspan font-size="4.4" dy="-2.6">2+</tspan><tspan dy="2.6">]</tspan><tspan font-size="4.4" dy="1.5">i</tspan></text>
<text x="1.00" y="16.80" font-size="17" font-family='"Liberation Sans", sans-serif' font-weight="bold" text-anchor="start" fill="#000" >A</text>
<text x="24.20" y="14.60" font-size="17" font-family='"Liberation Sans", sans-serif' font-weight="bold" text-anchor="start" fill="#000" >i</text>
<text x="249.20" y="14.50" font-size="17" font-family='"Liberation Sans", sans-serif' font-weight="bold" text-anchor="start" fill="#000" >ii</text>
<text x="1.00" y="163.50" font-size="18" font-family='"Liberation Sans", sans-serif' font-weight="bold" text-anchor="start" fill="#000" >B</text>
<text x="4.60" y="182.70" font-size="17" font-family='"Liberation Sans", sans-serif' font-weight="bold" text-anchor="start" fill="#000" >i</text>
<text x="265.50" y="164.50" font-size="18" font-family='"Liberation Sans", sans-serif' font-weight="bold" text-anchor="start" fill="#000" >C</text>
<text x="269.50" y="181.80" font-size="17" font-family='"Liberation Sans", sans-serif' font-weight="bold" text-anchor="start" fill="#000" >i</text>
<text x="4.90" y="311.70" font-size="17" font-family='"Liberation Sans", sans-serif' font-weight="bold" text-anchor="start" fill="#000" >ii</text>
<text x="270.00" y="316.00" font-size="17" font-family='"Liberation Sans", sans-serif' font-weight="bold" text-anchor="start" fill="#000" >ii</text>
<text x="4.10" y="439.80" font-size="17" font-family='"Liberation Sans", sans-serif' font-weight="bold" text-anchor="start" fill="#000" >iii</text>
<text x="269.90" y="453.20" font-size="17" font-family='"Liberation Sans", sans-serif' font-weight="bold" text-anchor="start" fill="#000" >iii</text>
</svg>
</body></html>
